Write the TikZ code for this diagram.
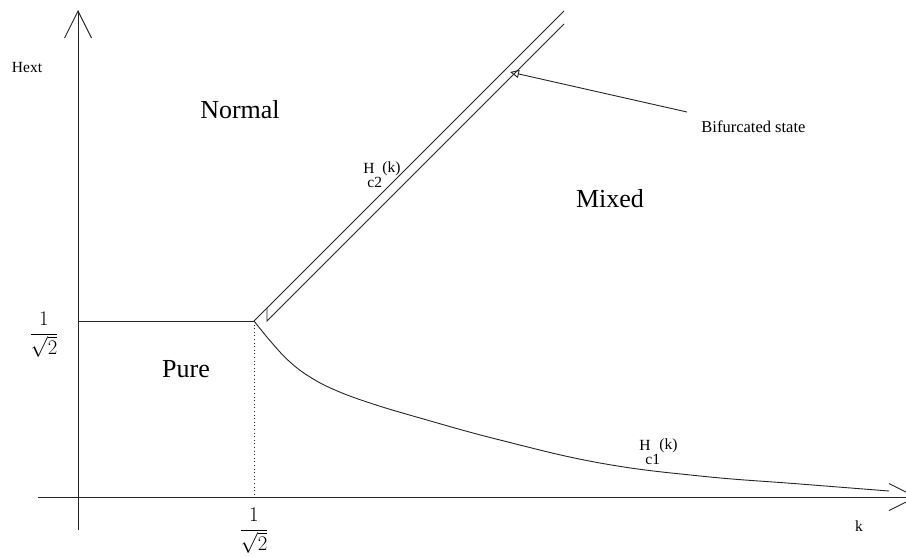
\documentclass[tikz,border=0pt]{standalone}
\usepackage{fontspec}
\setmainfont{Liberation Serif}
\usetikzlibrary{arrows.meta}
\begin{document}
\begin{tikzpicture}[x=1pt,y=-1pt,
  line width=0.9pt,
  ln/.style={draw=black!85, line width=0.9pt},
  axis/.style={ln, -{Straight Barb[length=27pt,width=27pt,line width=0.9pt]}},
  big/.style={font=\fontsize{26}{30}\selectfont, inner sep=0pt, anchor=base},
  small/.style={font=\fontsize{15.5}{18}\selectfont, inner sep=0pt, anchor=base},
  frac/.style={font=\fontsize{20}{24}\selectfont, inner sep=0pt}]
\useasboundingbox (0,0) rectangle (906,557);
\clip (0,0) rectangle (906,557);
\fill[white] (0,0) rectangle (906,557);
% coordinates
\coordinate (ybot) at (78,530);
\coordinate (ytop) at (78,10);
\coordinate (xleft) at (38,497);
\coordinate (xright) at (917,497);
\coordinate (hl) at (78,321);
\coordinate (corner) at (254,321);
\coordinate (cfoot) at (254,497);
\coordinate (ltop) at (564,11);
\coordinate (rtick) at (267,308);
\coordinate (rbot) at (267,321);
\coordinate (rtop) at (564,24);
\coordinate (arrtail) at (687,112);
\coordinate (arrtip) at (510,72);
% axes
\draw[axis] (ybot) -- (ytop);
\draw[axis] (xleft) -- (xright);
% horizontal line and dotted drop
\draw[ln] (hl) -- (corner);
\draw[ln, line width=0.8pt, dash pattern=on 1pt off 2.6pt] (corner) -- (cfoot);
% Hc2 double strip
\draw[ln] (corner) -- (ltop);
\draw[ln] (rtick) -- (rbot) -- (rtop);
% Hc1 curve
\draw[ln] plot[smooth, tension=0.7] coordinates {(254,321) (272,343) (290,362) (310,377) (335,390) (370,403) (420,418) (500,440) (600,463) (700,476) (800,484) (889,491)};
% bifurcated arrow
\draw[ln, -{Triangle[open, length=9pt, width=8pt, line width=0.9pt]}] (arrtail) -- (arrtip);
% labels
\node[small, anchor=base] (hext) at (27,72) {Hext};
\node[small, anchor=base] (k) at (859,531) {k};
\node[big] (normal) at (240,118) {Normal};
\node[big] (mixed) at (610,207) {Mixed};
\node[big] (pure) at (186,377) {Pure};
\node[small, anchor=base west, font=\fontsize{16.5}{19}\selectfont] (bif) at (701,132) {Bifurcated state};
\node[small, anchor=base west] (h2) at (363,173) {H};
\node[small, anchor=base west] (k2) at (382,172) {(k)};
\node[small, anchor=base west] (c2) at (367,187) {c2};
\node[small, anchor=base west] (h1) at (639,450) {H};
\node[small, anchor=base west] (k1) at (659,449) {(k)};
\node[small, anchor=base west] (c1) at (645,464) {c1};
\node[frac] (fl) at (44,335) {$\displaystyle\frac{1}{\sqrt{2}}$};
\node[frac] (fb) at (254,531) {$\displaystyle\frac{1}{\sqrt{2}}$};
\end{tikzpicture}
\end{document}
